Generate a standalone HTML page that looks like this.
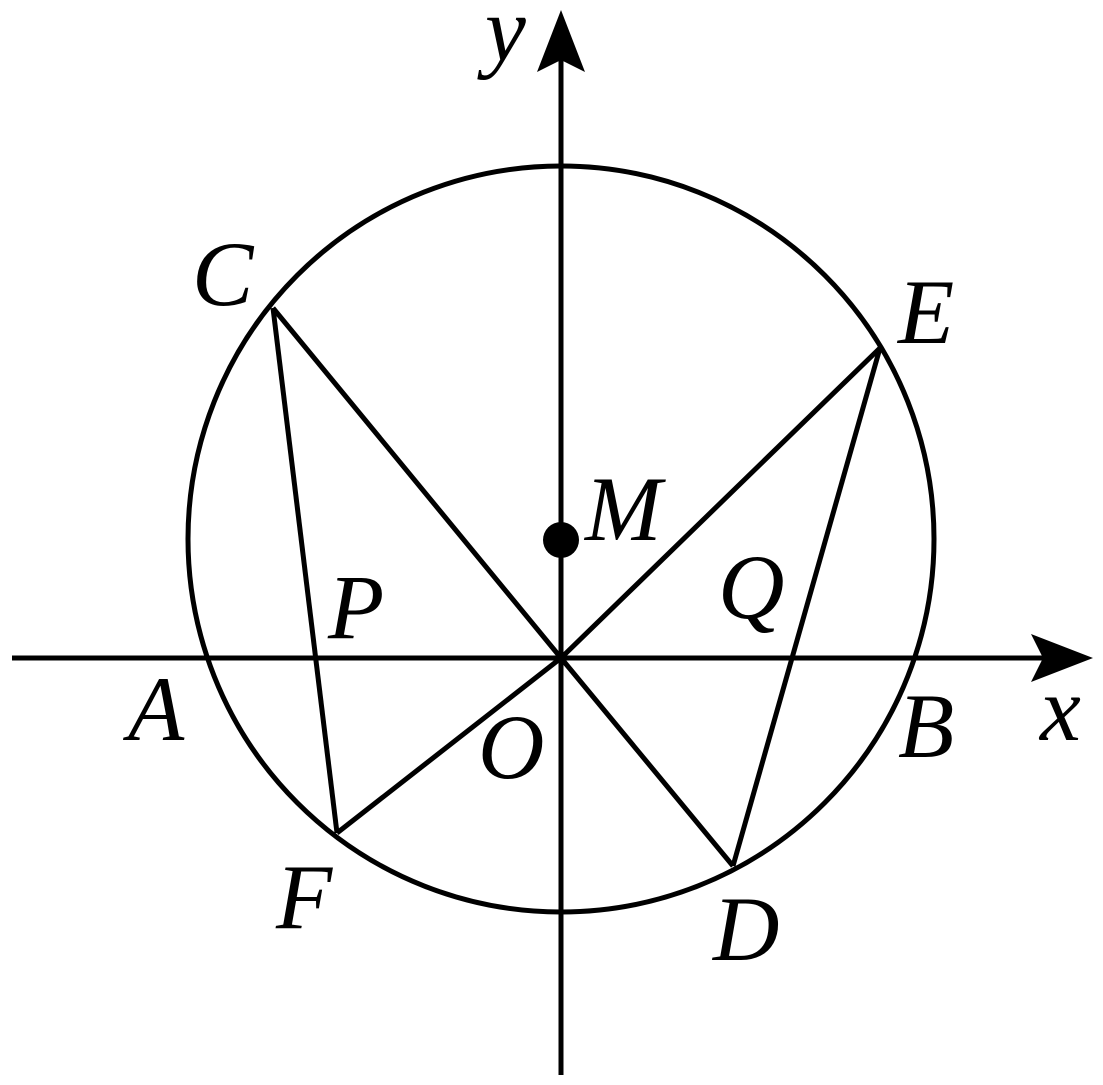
<!DOCTYPE html>
<html><head><style>html,body{margin:0;padding:0;background:#fff;}svg{display:block;}
text{font-family:"Liberation Serif",serif;font-style:italic;font-size:92px;fill:#000;}</style></head>
<body>
<svg width="1103" height="1085" viewBox="0 0 1103 1085" xmlns="http://www.w3.org/2000/svg">
<g stroke="#000" stroke-width="5" fill="none" stroke-linejoin="miter">
<circle cx="561" cy="539" r="373"/>
<line x1="12" y1="658" x2="1050" y2="658"/>
<line x1="561" y1="1075" x2="561" y2="55"/>
<polyline points="273,308 561,658 733,866"/>
<polyline points="880,348 561,658 337,833"/>
<line x1="273" y1="308" x2="337" y2="833"/>
<line x1="880" y1="348" x2="733" y2="866"/>
</g>
<polygon points="561,10 585,72 561,60 537,72" fill="#000"/>
<polygon points="1093,658 1031,634 1043,658 1031,682" fill="#000"/>
<circle cx="561" cy="540" r="18" fill="#000"/>
<text x="192" y="305">C</text>
<text x="898" y="343">E</text>
<text x="585" y="540">M</text>
<text x="328" y="638">P</text>
<text x="718" y="618">Q</text>
<text x="128" y="740">A</text>
<text x="898" y="757">B</text>
<text x="478" y="778">O</text>
<text x="276" y="928">F</text>
<text x="713" y="960">D</text>
<text x="1040" y="740">x</text>
<text x="485" y="60">y</text>
</svg>
</body></html>
